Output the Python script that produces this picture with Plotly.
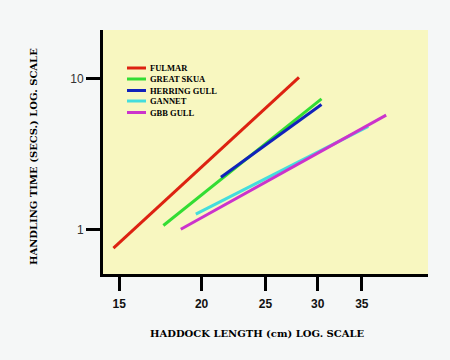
import plotly.graph_objects as go

# Data: straight lines on log-log axes, given by end points
species = ["FULMAR", "GREAT SKUA", "HERRING GULL", "GANNET", "GBB GULL"]
colors = ["#dd2211", "#33dd33", "#1122bb", "#44dddd", "#cc33cc"]
length_start = [14.7, 17.5, 21.4, 19.6, 18.6]
length_end = [28.1, 30.4, 30.4, 35.8, 38.1]
time_start = [0.75, 1.06, 2.21, 1.26, 1.00]
time_end = [10.15, 7.3, 6.7, 4.8, 5.7]

x_ticks = [15, 20, 25, 30, 35]
y_ticks = [1, 10]

fig = go.Figure()
for name, c, x0, x1, y0, y1 in zip(species, colors, length_start, length_end, time_start, time_end):
    fig.add_trace(go.Scatter(x=[x0, x1], y=[y0, y1], mode="lines", name=name,
                             line=dict(color=c, width=3), showlegend=False))

L, R, T, B = 103, 428, 30, 274
W, H = 450, 360

def px(x):
    return (x - L) / (R - L)

def py(y):
    return (B - y) / (B - T)

title_font = dict(family="DejaVu Serif", size=10, color="black")
legend_font = dict(family="Liberation Serif", size=8.5, color="black")

shapes = []
annotations = []
legend_y = [68, 79, 90.5, 101, 112.5]
for name, c, yy in zip(species, colors, legend_y):
    shapes.append(dict(type="line", xref="paper", yref="paper",
                       x0=px(127), x1=px(146), y0=py(yy), y1=py(yy),
                       line=dict(color=c, width=3)))
    annotations.append(dict(text="<b>" + name + "</b>", xref="paper", yref="paper",
                            x=px(148), y=py(yy), xanchor="left", yanchor="middle",
                            showarrow=False, font=legend_font))

annotations.append(dict(text="<b>HADDOCK LENGTH (cm) LOG. SCALE</b>", xref="paper", yref="paper",
                        x=px(257), y=py(333), xanchor="center", yanchor="middle",
                        showarrow=False, font=title_font))
annotations.append(dict(text="<b>HANDLING TIME (SECS.) LOG. SCALE</b>", xref="paper", yref="paper",
                        x=px(33), y=py(157), xanchor="center", yanchor="middle",
                        textangle=-90, showarrow=False, font=title_font))

fig.update_layout(
    width=W, height=H,
    margin=dict(l=L, r=W - R, t=T, b=H - B),
    paper_bgcolor="#f5f7f7",
    plot_bgcolor="#f8f7c0",
    shapes=shapes,
    annotations=annotations,
    showlegend=False,
)
fig.update_xaxes(type="log", range=[1.1515, 1.6444], tickvals=x_ticks,
                 ticktext=["<b>%d</b>" % v for v in x_ticks],
                 showgrid=False, zeroline=False, showline=True, linecolor="black",
                 linewidth=3, ticks="outside", ticklen=14, tickwidth=3, tickcolor="black",
                 tickfont=dict(family="Liberation Sans", size=12, color="#111111"),
                 ticklabelstandoff=3)
fig.update_yaxes(type="log", range=[-0.2960, 1.3199], tickvals=y_ticks,
                 ticktext=[str(v) for v in y_ticks],
                 showgrid=False, zeroline=False, showline=True, linecolor="black",
                 linewidth=3, ticks="outside", ticklen=14, tickwidth=3, tickcolor="black",
                 tickfont=dict(family="Liberation Sans", size=12, color="#333333"))

fig.write_html("out.html", config={"displayModeBar": False},
               post_script="document.body.style.margin='0';")
